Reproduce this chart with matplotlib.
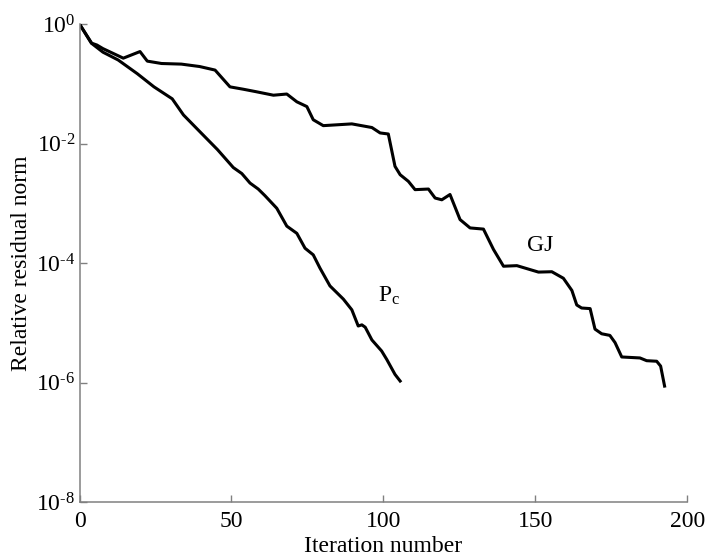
import numpy as np
import matplotlib
matplotlib.use('Agg')
import matplotlib.pyplot as plt
from matplotlib.ticker import NullLocator, FixedFormatter

# Times-like look for all text
plt.rcParams['font.family'] = 'serif'
plt.rcParams['font.serif'] = ['Liberation Serif', 'DejaVu Serif']
plt.rcParams['mathtext.fontset'] = 'custom'
plt.rcParams['mathtext.rm'] = 'Liberation Serif'
plt.rcParams['mathtext.it'] = 'Liberation Serif:italic'
plt.rcParams['font.size'] = 17

# ---- convergence histories ----
gj_iter = [0, 4.0, 5.7, 7.7, 14.4, 19.9, 22.3, 27.0, 33.5, 39.5, 44.6, 49.5,
           53.9, 58.0, 63.8, 68.2, 71.5, 74.8, 76.9, 80.2, 89.6, 96.2, 98.9,
           101.6, 103.8, 105.5, 108.2, 110.4, 114.8, 117.0, 119.2, 121.9,
           125.2, 128.5, 132.9, 136.2, 139.5, 143.9, 151.0, 155.4, 159.2,
           162.0, 163.6, 165.2, 168.0, 169.6, 171.8, 174.5, 176.2, 178.4,
           184.4, 186.6, 189.9, 191.2, 192.6]
gj_resid = [1.0, 0.479, 0.447, 0.389, 0.269, 0.347, 0.240, 0.219, 0.214,
            0.195, 0.170, 0.0891, 0.0813, 0.0741, 0.0646, 0.0676, 0.0501,
            0.0417, 0.0251, 0.0200, 0.0214, 0.0186, 0.0151, 0.0145, 4.17e-3,
            3.02e-3, 2.34e-3, 1.70e-3, 1.74e-3, 1.23e-3, 1.15e-3, 1.41e-3,
            5.37e-4, 3.89e-4, 3.72e-4, 1.70e-4, 8.9e-5, 9.1e-5, 7.1e-5,
            7.2e-5, 5.6e-5, 3.5e-5, 2.0e-5, 1.78e-5, 1.74e-5, 7.9e-6, 6.6e-6,
            6.2e-6, 4.7e-6, 2.7e-6, 2.6e-6, 2.34e-6, 2.29e-6, 1.9e-6, 8.3e-7]

pc_iter = [0, 3.9, 7.7, 12.7, 19.0, 24.5, 30.5, 34.2, 40.0, 45.4, 50.6, 53.4,
           56.1, 58.8, 61.0, 64.9, 68.2, 71.5, 74.2, 76.9, 79.1, 82.4, 86.8,
           89.6, 91.7, 92.9, 94.0, 96.2, 99.4, 101.1, 103.8, 105.8]
pc_resid = [1.0, 0.479, 0.339, 0.251, 0.148, 0.0891, 0.0562, 0.0302, 0.0151,
            7.94e-3, 3.98e-3, 3.16e-3, 2.19e-3, 1.74e-3, 1.35e-3, 8.3e-4,
            4.17e-4, 3.16e-4, 1.78e-4, 1.38e-4, 8.3e-5, 4.17e-5, 2.51e-5,
            1.66e-5, 8.9e-6, 9.3e-6, 8.5e-6, 5.2e-6, 3.4e-6, 2.45e-6,
            1.38e-6, 1.02e-6]

x_ticks = [0, 50, 100, 150, 200]
y_ticks = [1e0, 1e-2, 1e-4, 1e-6, 1e-8]
y_exponents = ['0', '\u20102', '\u20104', '\u20106', '\u20108']

fig = plt.figure(figsize=(7.05, 5.6), dpi=100)
ax = fig.add_axes([0.1128, 0.103, 0.8622, 0.854])

line_kw = dict(color='black', lw=2.2, solid_joinstyle='round',
               solid_capstyle='butt')
ax.plot(gj_iter, gj_resid, **line_kw)
ax.plot(pc_iter, pc_resid, **line_kw)

ax.set_yscale('log')
ax.set_xlim(0, 200)
ax.set_ylim(1e-8, 1e0)
ax.set_xticks(x_ticks)
ax.set_yticks(y_ticks)
ax.yaxis.set_major_formatter(FixedFormatter(
    [r'$\mathregular{10^{%s}}$' % e for e in y_exponents]))
ax.yaxis.set_minor_locator(NullLocator())

for side in ['top', 'right']:
    ax.spines[side].set_visible(False)
for side in ['left', 'bottom']:
    ax.spines[side].set_color('#808080')
    ax.spines[side].set_linewidth(1.1)
ax.tick_params(direction='in', length=5, width=1.0, color='#808080',
               labelsize=17)
ax.tick_params(axis='x', pad=6)
ax.tick_params(axis='y', pad=3)

ax.set_xlabel('Iteration number', fontsize=17, labelpad=3)
ax.set_ylabel('Relative residual norm', fontsize=17, labelpad=3)

# curve labels
ax.text(151.5, 2.0e-4, 'GJ', fontsize=17, ha='center', va='center')
ax.text(102, 2.8e-5, r'P$_{\mathregular{c}}$', fontsize=17,
        ha='center', va='center')

fig.savefig('out.png', dpi=100)
